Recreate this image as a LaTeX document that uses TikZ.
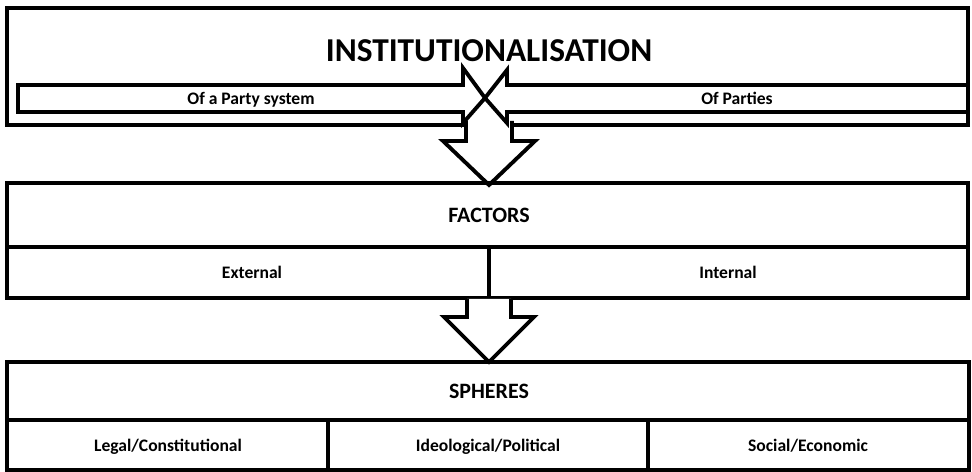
\documentclass[tikz,border=0pt]{standalone}
\usepackage{fontspec}
\setmainfont{Carlito}
\usetikzlibrary{calc}

\begin{document}
\begin{tikzpicture}[x=0.02cm, y=-0.02cm,
    boxframe/.style={line width=2.8pt},
    divider/.style={line width=2.3pt},
    blockarrow/.style={line width=2.2pt, fill=white, line join=miter},
    titletext/.style={font=\bfseries\fontsize{19}{22}\selectfont, text height=1.6ex, text depth=0pt},
    headtext/.style={font=\bfseries\fontsize{12.5}{15}\selectfont, text height=1.6ex, text depth=0pt},
    celltext/.style={font=\bfseries\fontsize{10}{12}\selectfont, text height=1.6ex, text depth=0.4ex}]

    \useasboundingbox (0,0) rectangle (972,472);

    % Institutionalisation Box
    \draw[boxframe] (7,8) rectangle (968,125);
    \coordinate (instbottom) at (489,121);
    \coordinate (cross) at (485,98);

    % Arrow down to Factors
    \coordinate (factop) at (489,185);
    \draw[blockarrow] ($(instbottom)+(-23,0)$) |- ($(factop)+(-46,-44)$) -- (factop)
        -- ($(factop)+(46,-44)$) -| ($(instbottom)+(23,0)$);

    % Crossing arrows
    \draw[blockarrow] (18,85) -- (463,85) -- (463,68) -- (cross) -- (463,123)
        -- (463,112) -- (18,112) -- cycle;
    \draw[blockarrow] (968,85) -- (507,85) -- (507,70) -- (cross) -- (507,123)
        -- (507,112) -- (968,112) -- cycle;
    \node[titletext] (inst) at (489,55) {INSTITUTIONALISATION};
    \node[celltext] (partysystem) at (251,99) {Of a Party system};
    \node[celltext] (parties) at (737,99) {Of Parties};

    % Factors Box
    \draw[boxframe] (7,183) rectangle (968,298);
    \draw[divider] (7,247) -- (968,247);
    \draw[divider] (489,247) -- (489,298);
    \node[headtext] (factors) at (489,216) {FACTORS};
    \node[celltext] (external) at (252,273) {External};
    \node[celltext] (internal) at (728,273) {Internal};

    % Arrow down to Spheres
    \coordinate (facbottom) at (489,299);
    \coordinate (sphtop) at (489,362);
    \draw[blockarrow] ($(facbottom)+(-22,0)$) |- ($(sphtop)+(-45,-45)$) -- (sphtop)
        -- ($(sphtop)+(45,-45)$) -| ($(facbottom)+(22,0)$);

    % Spheres Box
    \draw[boxframe] (7,362) rectangle (969,470);
    \draw[divider] (7,420) -- (969,420);
    \draw[divider] (328,420) -- (328,470);
    \draw[divider] (648,420) -- (648,470);
    \node[headtext] (spheres) at (489,392) {SPHERES};
    \node[celltext] (legal) at (168,446) {Legal/Constitutional};
    \node[celltext] (ideological) at (488,446) {Ideological/Political};
    \node[celltext] (social) at (808,446) {Social/Economic};
\end{tikzpicture}
\end{document}
